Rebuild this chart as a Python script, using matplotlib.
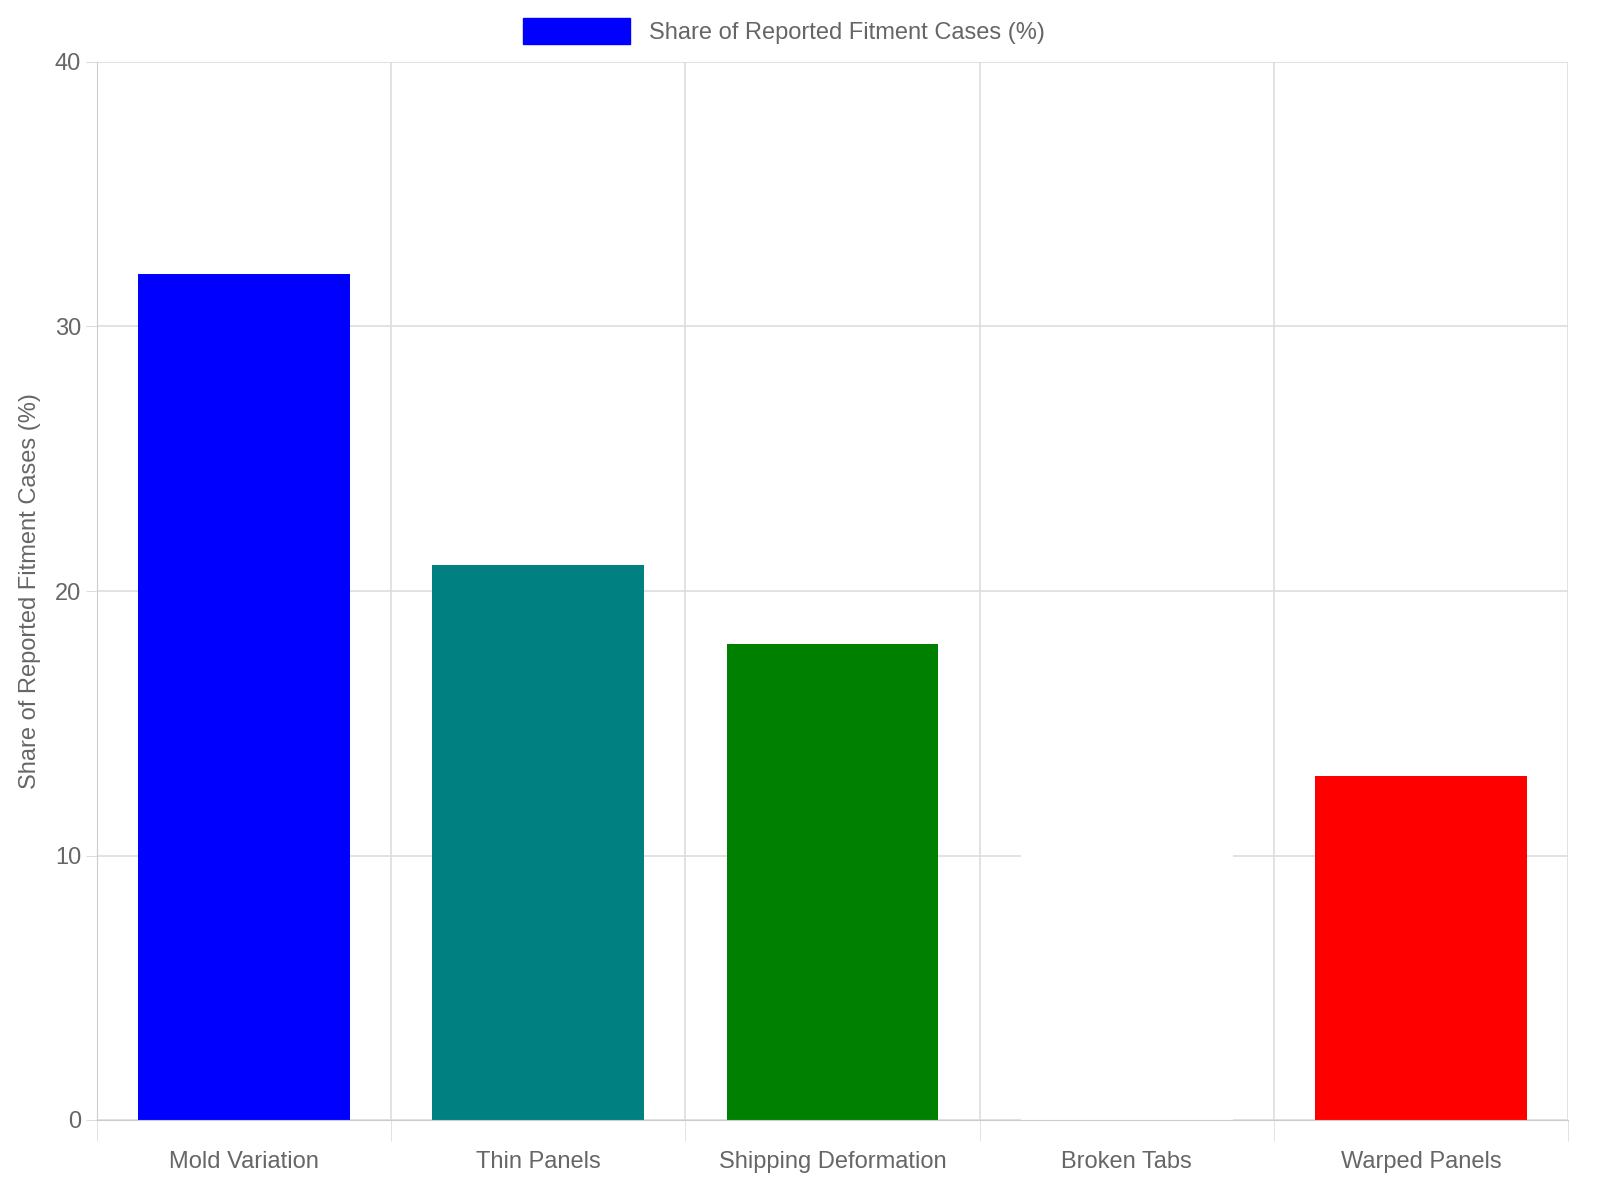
import matplotlib
matplotlib.use("Agg")
import matplotlib.pyplot as plt
import numpy as np

categories = ["Mold Variation", "Thin Panels", "Shipping Deformation", "Broken Tabs", "Warped Panels"]
values = [32, 21, 18, 16, 13]
colors = ["#0000ff", "#008080", "#008000", "#ffffff", "#ff0000"]
series_name = "Share of Reported Fitment Cases (%)"

plt.rcParams['font.family'] = ['Liberation Sans', 'DejaVu Sans']
fig = plt.figure(figsize=(16, 12), dpi=100)
ax = fig.add_axes([97/1600, 1-1120/1200, (1568-97)/1600, (1120-62)/1200])
x = np.arange(len(categories))
bars = ax.bar(x, values, width=0.72, color=colors, label=series_name, zorder=2)
ax.set_xlim(-0.5, len(categories)-0.5)
ax.set_ylim(0, 40)
ax.set_yticks([0, 10, 20, 30, 40])
ax.set_xticks(x)
ax.set_xticklabels(categories, fontsize=17, color="#666666")
ax.set_xticks(np.arange(-0.5, len(categories)), minor=True)
ax.tick_params(axis='x', which='major', length=0, pad=22)
ax.tick_params(axis='x', which='minor', length=15, color="#dddddd")
ax.tick_params(axis='y', length=8, color="#dddddd", labelsize=17, labelcolor="#666666")
ax.grid(True, which='minor', axis='x', color="#dddddd", lw=1.2, zorder=0)
ax.grid(True, which='major', axis='y', color="#dddddd", lw=1.2, zorder=0)
for s in ["top", "right"]:
    ax.spines[s].set_visible(False)
for s in ["left", "bottom"]:
    ax.spines[s].set_color("#cccccc")
ax.set_ylabel(series_name, fontsize=17, color="#666666", labelpad=10)
from matplotlib.patches import Patch
fig.legend(handles=[Patch(color="#0000ff")], labels=[series_name], loc="center",
           bbox_to_anchor=(0.49, 1-31/1200), frameon=False, fontsize=17,
           labelcolor="#666666", handlelength=4.5, handleheight=1.3)
fig.savefig("out.png", dpi=100, facecolor="white")
